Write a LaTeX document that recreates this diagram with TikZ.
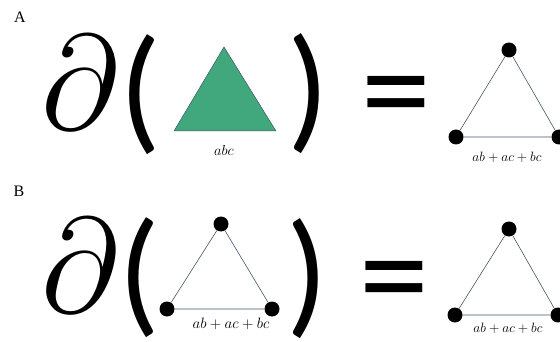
\documentclass[tikz,border=0pt]{standalone}
\usepackage{fix-cm}
\usepackage{fontspec}
\setmainfont{Liberation Serif}
\newfontfamily\symfont{Carlito}
\usetikzlibrary{positioning}
\definecolor{facegreen}{RGB}{64,168,124}
\definecolor{edgegray}{RGB}{68,84,106}

\begin{document}
\begin{tikzpicture}[x=1pt, y=-1pt,
    vertex/.style={circle, fill=black, inner sep=0pt, minimum size=15pt},
    edge/.style={edgegray, line width=0.6pt},
    bigsym/.style={inner sep=0pt, font=\symfont\fontsize{138}{138}\selectfont},
    eqsym/.style={inner sep=0pt, font=\symfont\fontsize{140}{140}\selectfont},
    delsym/.style={inner sep=0pt, font=\fontsize{135}{135}\selectfont},
    panel/.style={inner sep=0pt, font=\fontsize{16}{16}\selectfont},
    chain/.style={inner sep=0pt, font=\fontsize{13.5}{13.5}\selectfont}]
\useasboundingbox (0,0) rectangle (560,342);
            % panel A
            \node[panel] (labA) at (20,17) {A};
            \node[delsym] (delA) at (80,83) {$\partial$};
            \node[bigsym] (openA) at (140,95) {(};
            \fill[facegreen, draw=edgegray, line width=0.5pt] (224,47) -- (174,131) -- (276,131) -- cycle;
            \node[chain, font=\fontsize{14.5}{14.5}\selectfont] (faceA) at (224,150) {$abc$};
            \node[bigsym] (closeA) at (308,94) {)};
            \node[eqsym] (eqA) at (396,106) {=};
            % boundary of the face
            \node[vertex] (a1) at (509,50) {};
            \node[vertex] (a2) at (456,137) {};
            \node[vertex] (a3) at (559,137) {};
            \draw[edge] (a1) -- (a2) -- (a3) -- (a1);
            \node[chain] (sumA) at (507,157) {$ab+ac+bc$};
            % panel B
            \node[panel] (labB) at (19,191) {B};
            \node[delsym] (delB) at (80,266) {$\partial$};
            \node[bigsym] (openB) at (139,278) {(};
            \node[vertex] (b1) at (221,224) {};
            \node[vertex] (b2) at (167,309) {};
            \node[vertex] (b3) at (272,309) {};
            \draw[edge] (b1) -- (b2) -- (b3) -- (b1);
            \node[chain, font=\fontsize{15}{15}\selectfont] (edgesB) at (231,324) {$ab+ac+bc$};
            \node[bigsym] (closeB) at (307,279) {)};
            \node[eqsym] (eqB) at (394,291) {=};
            % boundary of the edges
            \node[vertex] (c1) at (509,229) {};
            \node[vertex] (c2) at (455,315) {};
            \node[vertex] (c3) at (558,315) {};
            \draw[edge] (c1) -- (c2) -- (c3) -- (c1);
            \node[chain] (sumB) at (508,328) {$ab+ac+bc$};
\end{tikzpicture}
\end{document}
